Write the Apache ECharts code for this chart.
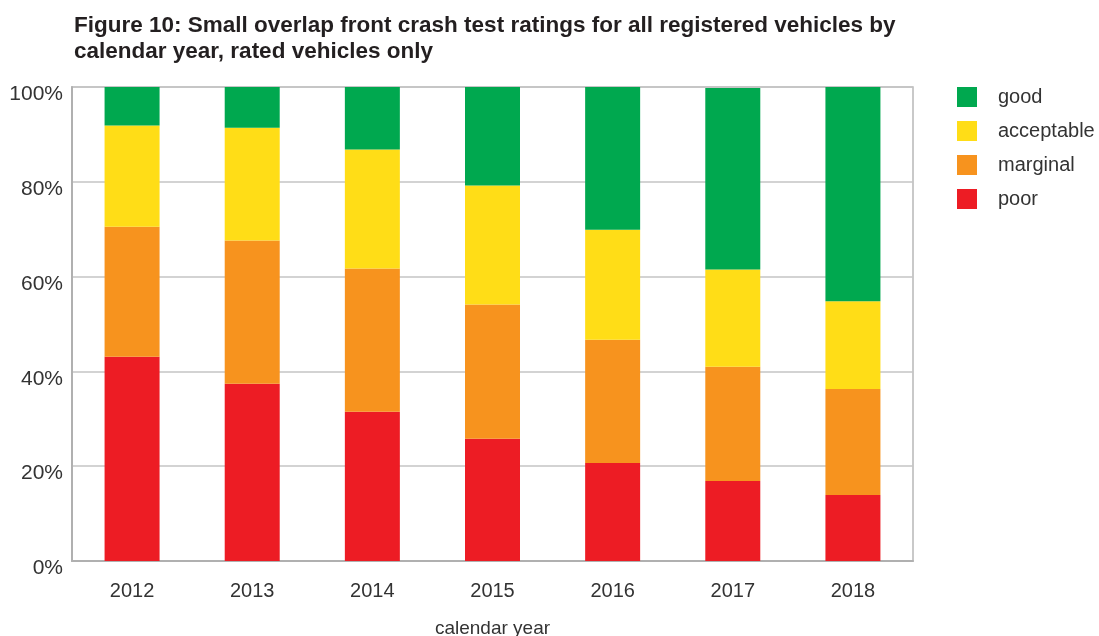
<!DOCTYPE html>
<html>
<head>
<meta charset="utf-8">
<script src="https://cdn.jsdelivr.net/npm/echarts@6/dist/echarts.min.js"></script>
<style>
  html, body { margin: 0; padding: 0; background: #fff; }
  #chart { width: 1099px; height: 636px; }
</style>
</head>
<body>
<div id="chart"></div>
<script>
// calendar years on the x axis
const years = ['2012', '2013', '2014', '2015', '2016', '2017', '2018'];
// share of rated vehicles (%) per rating
const poor       = [43.1, 37.4, 31.5, 25.8, 20.7, 16.9, 13.9];
const marginal   = [27.4, 30.2, 30.2, 28.3, 26.0, 24.1, 22.4];
const acceptable = [21.4, 23.8, 25.1, 25.1, 23.2, 20.5, 18.5];
const good       = [ 8.1,  8.6, 13.2, 20.8, 30.1, 38.3, 45.2];

const font = '"Liberation Sans", Arial, sans-serif';
const textColor = '#333';

let chart = echarts.init(document.getElementById('chart'));

function bar(name, data, color) {
  return {
    name: name,
    type: 'bar',
    stack: 'total',
    barWidth: 55,
    data: data,
    itemStyle: { color: color },
    emphasis: { disabled: true }
  };
}

chart.setOption({
  animation: false,
  title: {
    text: 'Figure 10: Small overlap front crash test ratings for all registered vehicles by\ncalendar year, rated vehicles only',
    left: 74,
    top: 13,
    padding: 0,
    textStyle: {
      fontFamily: font,
      fontWeight: 'bold',
      fontSize: 22.5,
      lineHeight: 26,
      color: '#231f20'
    }
  },
  legend: {
    orient: 'vertical',
    left: 957,
    top: 87,
    padding: 0,
    icon: 'rect',
    itemWidth: 20,
    itemHeight: 20,
    itemGap: 14,
    data: ['good', 'acceptable', 'marginal', 'poor'],
    textStyle: { fontFamily: font, fontSize: 20, color: textColor, padding: [0, 0, 0, 16] }
  },
  grid: {
    left: 72,
    right: 186,
    top: 87,
    bottom: 75,
    outerBoundsMode: 'none',
    containLabel: false,
    show: true,
    borderColor: '#b8b8b8',
    borderWidth: 1.5
  },
  xAxis: {
    type: 'category',
    data: years,
    name: 'calendar year',
    nameLocation: 'middle',
    nameGap: 58,
    nameTextStyle: { fontFamily: font, fontSize: 19, color: textColor },
    axisLine: { lineStyle: { color: '#b0b0b0', width: 2 } },
    axisTick: { show: false },
    axisLabel: { fontFamily: font, fontSize: 20, color: textColor, margin: 20 }
  },
  yAxis: {
    type: 'value',
    min: 0,
    max: 100,
    interval: 20,
    axisLine: { show: true, lineStyle: { color: '#b0b0b0', width: 2 } },
    axisTick: { show: false },
    axisLabel: {
      fontFamily: font, fontSize: 21, color: textColor, margin: 9,
      verticalAlign: 'top',
      lineHeight: 15,
      formatter: '{value}%'
    },
    splitLine: { lineStyle: { color: '#c4c4c4', width: 1.5 } }
  },
  series: [
    bar('poor', poor, '#ED1C24'),
    bar('marginal', marginal, '#F7931E'),
    bar('acceptable', acceptable, '#FFDD17'),
    bar('good', good, '#00A84F')
  ]
});
</script>
</body>
</html>
